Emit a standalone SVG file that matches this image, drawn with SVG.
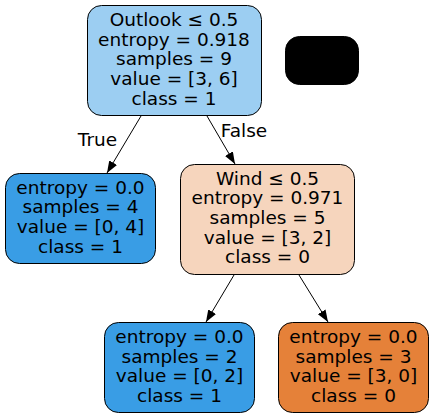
<svg xmlns="http://www.w3.org/2000/svg" width="435" height="419" viewBox="0 0 435 419">
<defs>
<marker id="ah" viewBox="0 0 12 9" refX="12" refY="4.5" markerWidth="12" markerHeight="9" markerUnits="userSpaceOnUse" orient="auto">
<path d="M0,0 L12,4.5 L0,9 z" fill="#000"/>
</marker>
<style>
.n{stroke:#000;stroke-width:1}
.t{font-family:"DejaVu Sans",sans-serif;font-size:18.5px;text-anchor:middle;fill:#000}
.e{stroke:#000;stroke-width:1;fill:none;marker-end:url(#ah)}
</style>
</defs>
<rect width="435" height="419" fill="#fff"/>
<g id="connectors">
<line class="e" x1="141" y1="116" x2="107" y2="173"/>
<line class="e" x1="207" y1="116" x2="235" y2="164"/>
<line class="e" x1="234" y1="275" x2="206" y2="322"/>
<line class="e" x1="299" y1="275" x2="328" y2="322"/>
<text class="t" x="97.5" y="146">True</text>
<text class="t" x="244" y="137">False</text>
</g>
<g id="node0">
<rect class="n" x="87.5" y="5.5" width="174" height="110" rx="14" fill="#9ccef2"/>
<text class="t" x="174" y="26">Outlook ≤ 0.5</text>
<text class="t" x="174" y="45.7">entropy = 0.918</text>
<text class="t" x="174" y="65.4">samples = 9</text>
<text class="t" x="174" y="85.1">value = [3, 6]</text>
<text class="t" x="174" y="104.8">class = 1</text>
</g>
<g id="legend">
<rect x="285.5" y="36.5" width="73" height="48" rx="14" fill="#000" stroke="#000"/>
</g>
<g id="node1">
<rect class="n" x="5.5" y="173.5" width="150" height="90" rx="14" fill="#399de5"/>
<text class="t" x="80.5" y="193.5">entropy = 0.0</text>
<text class="t" x="80.5" y="213.2">samples = 4</text>
<text class="t" x="80.5" y="232.9">value = [0, 4]</text>
<text class="t" x="80.5" y="252.6">class = 1</text>
</g>
<g id="node2">
<rect class="n" x="180.5" y="164.5" width="174" height="110" rx="14" fill="#f6d5bd"/>
<text class="t" x="267.5" y="184.5">Wind ≤ 0.5</text>
<text class="t" x="267.5" y="204.2">entropy = 0.971</text>
<text class="t" x="267.5" y="223.9">samples = 5</text>
<text class="t" x="267.5" y="243.6">value = [3, 2]</text>
<text class="t" x="267.5" y="263.3">class = 0</text>
</g>
<g id="node3">
<rect class="n" x="104.5" y="322.5" width="150" height="90" rx="14" fill="#399de5"/>
<text class="t" x="179.5" y="343">entropy = 0.0</text>
<text class="t" x="179.5" y="362.7">samples = 2</text>
<text class="t" x="179.5" y="382.4">value = [0, 2]</text>
<text class="t" x="179.5" y="402.1">class = 1</text>
</g>
<g id="node4">
<rect class="n" x="278.5" y="322.5" width="150" height="90" rx="14" fill="#e58139"/>
<text class="t" x="353.5" y="343">entropy = 0.0</text>
<text class="t" x="353.5" y="362.7">samples = 3</text>
<text class="t" x="353.5" y="382.4">value = [3, 0]</text>
<text class="t" x="353.5" y="402.1">class = 0</text>
</g>
</svg>
